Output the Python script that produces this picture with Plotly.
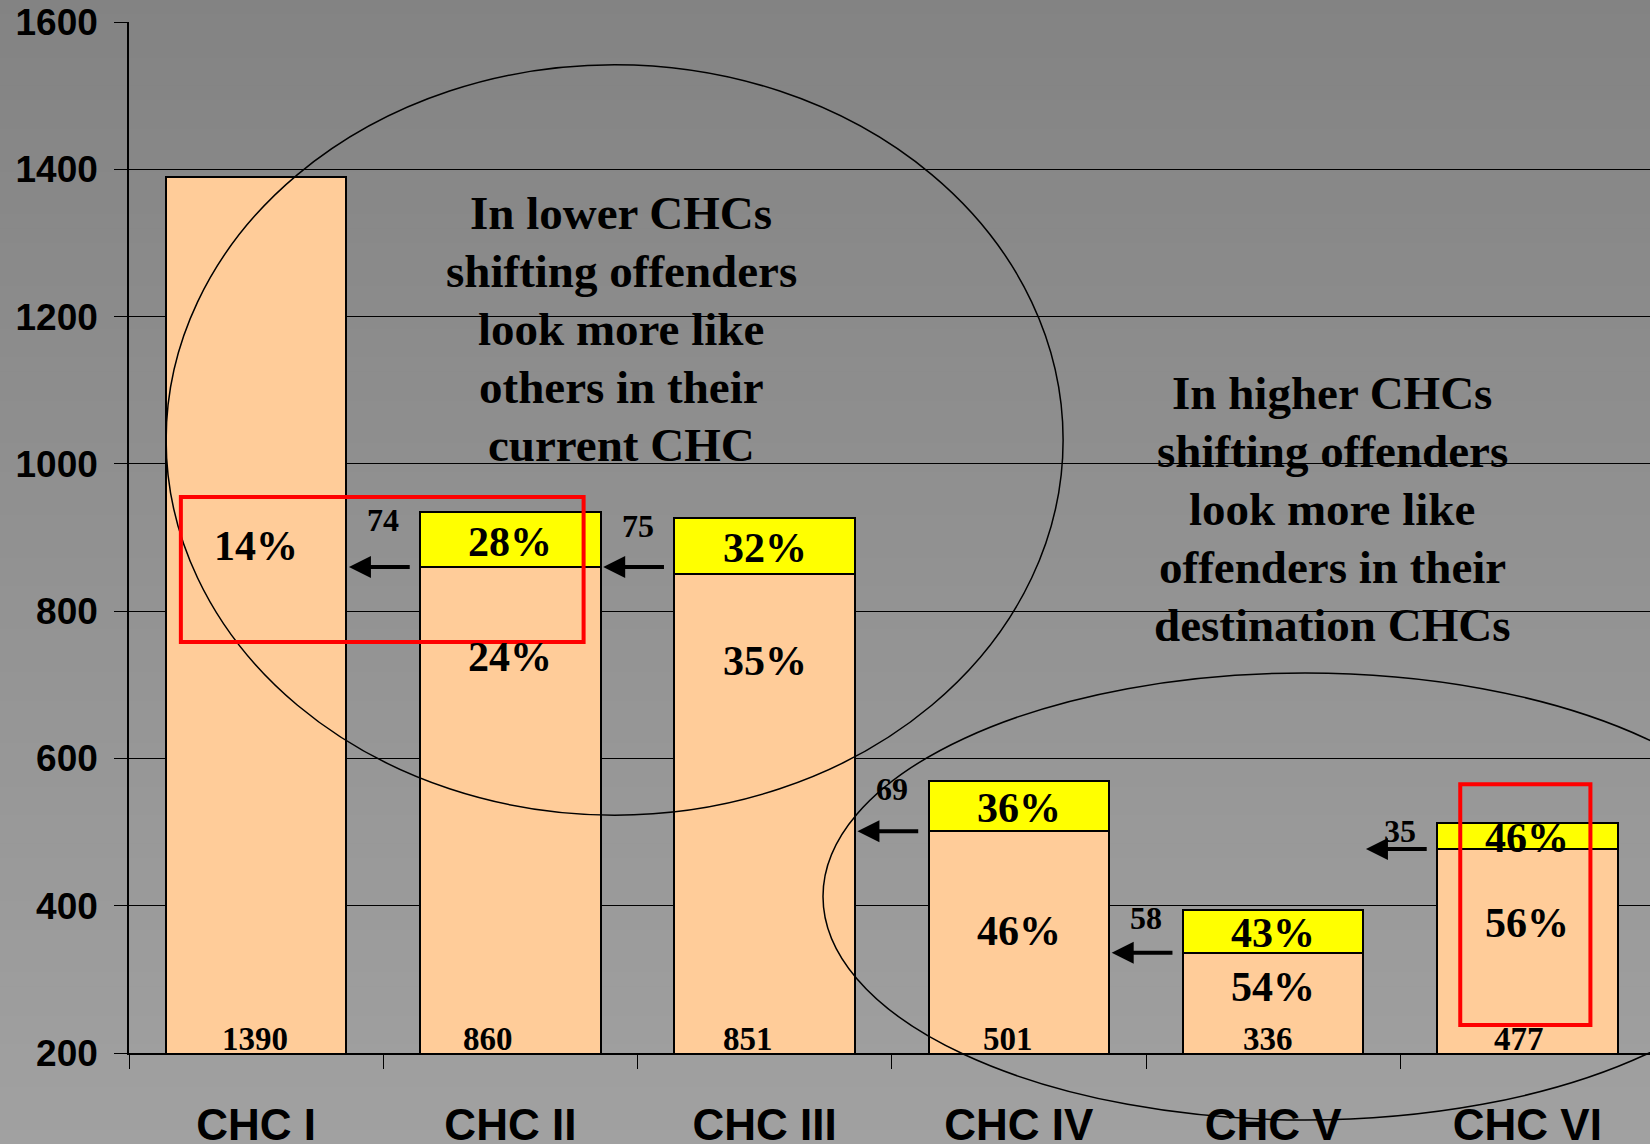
import plotly.graph_objects as go

categories = ["CHC I", "CHC II", "CHC III", "CHC IV", "CHC V", "CHC VI"]
base_counts = [1390, 860, 851, 501, 336, 477]          # offenders staying (orange)
shift_counts = [0, 74, 75, 69, 58, 35]                  # offenders shifting down (yellow)
base_pct = ["14%", "24%", "35%", "46%", "54%", "56%"]
shift_pct = ["", "28%", "32%", "36%", "43%", "46%"]
y_ticks = [200, 400, 600, 800, 1000, 1200, 1400, 1600]
note_lower = ["In lower CHCs", "shifting offenders", "look more like", "others in their", "current CHC"]
note_higher = ["In higher CHCs", "shifting offenders", "look more like", "offenders in their", "destination CHCs"]

# layout helpers (pixel geometry of the slide)
W, H = 1650, 1144
ML, MT, MB = 129, 22, 91
PW = W - ML
PH = H - MT - MB
def px_x(p):  # pixel -> paper
    return (p - ML) / PW
def px_y(p):
    return (H - MB - p) / PH

fig = go.Figure()
fig.add_trace(go.Bar(x=categories, y=base_counts, width=0.71,
                     marker=dict(color="#FFCC99", line=dict(color="black", width=2)), hoverinfo="skip"))
fig.add_trace(go.Bar(x=categories, y=shift_counts, width=0.71,
                     marker=dict(color="#FFFF00", line=dict(color="black", width=2)), hoverinfo="skip"))

ann = []
serif = "Liberation Serif"
# count labels at bar bottom
count_xshift = [-1, -22, -17, -11, -5, -8]
for i, v in enumerate(base_counts):
    ann.append(dict(x=i, y=200, xref="x", yref="y", text=f"<b>{v}</b>", showarrow=False, yanchor="bottom",
                    yshift=-6, xshift=count_xshift[i], font=dict(family=serif, size=33, color="black")))
# percent labels in orange part
base_label_y = [888, 738, 732, 366, 290, 376]
for i, t in enumerate(base_pct):
    ann.append(dict(x=i, y=base_label_y[i], xref="x", yref="y", text=f"<b>{t}</b>", showarrow=False,
                    font=dict(family=serif, size=42, color="black")))
# percent labels in yellow part + arrows + shift counts
for i, t in enumerate(shift_pct):
    if not t:
        continue
    mid = base_counts[i] + shift_counts[i] / 2
    ann.append(dict(x=i, y=mid, xref="x", yref="y", text=f"<b>{t}</b>", showarrow=False, yshift=-2,
                    font=dict(family=serif, size=42, color="black")))
    ann.append(dict(x=i - 0.5, y=base_counts[i] + shift_counts[i], xref="x", yref="y",
                    text=f"<b>{shift_counts[i]}</b>", showarrow=False, yshift=-8,
                    font=dict(family=serif, size=32, color="black")))
    ay = base_counts[i] if i != 2 else base_counts[1]
    ann.append(dict(x=i - 0.635, y=ay, ax=i - 0.39, ay=ay, xref="x", yref="y", axref="x", ayref="y",
                    text="", showarrow=True, arrowhead=2, arrowsize=1.1, arrowwidth=4, arrowcolor="black"))

# big text blocks, one annotation per line (line pitch 58 px)
for lines, cx, top in [(note_lower, 621, 213), (note_higher, 1332, 393)]:
    for k, line in enumerate(lines):
        ann.append(dict(x=px_x(cx), y=px_y(top + 58 * k), xref="paper", yref="paper", showarrow=False,
                        xanchor="center", yanchor="middle",
                        text=f"<b>{line}</b>", font=dict(family=serif, size=47, color="black")))

shapes = []
# background gradient bands
N = 80
for k in range(N):
    p0 = k * H / N
    p1 = (k + 1) * H / N + 1
    c = int(round(0x83 + (0xA1 - 0x83) * (k + 0.5) / N))
    shapes.append(dict(type="rect", xref="paper", yref="paper", x0=px_x(-2), x1=px_x(W + 2),
                       y0=px_y(p1), y1=px_y(p0), fillcolor=f"rgb({c},{c},{c})", line=dict(width=0), layer="below"))
# ellipses
shapes.append(dict(type="circle", xref="x", yref="y", x0=-0.354, x1=3.174, y0=523, y1=1542,
                   line=dict(color="black", width=1.5), layer="above"))
shapes.append(dict(type="circle", xref="paper", yref="paper", x0=px_x(823), x1=px_x(1787),
                   y0=px_y(1120), y1=px_y(673), line=dict(color="black", width=1.5), layer="above"))
# red rectangles
shapes.append(dict(type="rect", xref="x", yref="y", x0=-0.296, x1=1.288, y0=758, y1=955,
                   line=dict(color="#FF0000", width=4), layer="above"))
shapes.append(dict(type="rect", xref="x", yref="y", x0=4.736, x1=5.248, y0=238, y1=565,
                   line=dict(color="#FF0000", width=4), layer="above"))

fig.update_layout(
    barmode="stack", width=W, height=H, showlegend=False,
    margin=dict(l=ML, r=0, t=MT, b=MB, pad=0),
    paper_bgcolor="#929292", plot_bgcolor="rgba(0,0,0,0)",
    annotations=ann, shapes=shapes,
    xaxis=dict(type="category", range=[-0.5, 5.5 - 4.5 / 254.5], automargin=False,
               showline=True, linecolor="black", linewidth=1.5, ticks="outside", tickson="boundaries",
               ticklen=14, tickcolor="black", tickwidth=1, showgrid=False, ticklabelstandoff=32,
               tickfont=dict(family="Liberation Sans", size=44, color="black", weight="bold")),
    yaxis=dict(range=[200, 1600], tickvals=y_ticks, showline=True, linecolor="black", linewidth=1.5,
               automargin=False,
               ticks="outside", ticklen=13, tickcolor="black", showgrid=True, gridcolor="black", gridwidth=1,
               zeroline=False, ticklabelstandoff=9,
               tickfont=dict(family="Liberation Sans", size=37, color="black", weight="bold")),
)
fig.write_html("out.html", config={"displayModeBar": False},
               post_script="document.body.style.margin='0';document.body.style.overflow='hidden';")
